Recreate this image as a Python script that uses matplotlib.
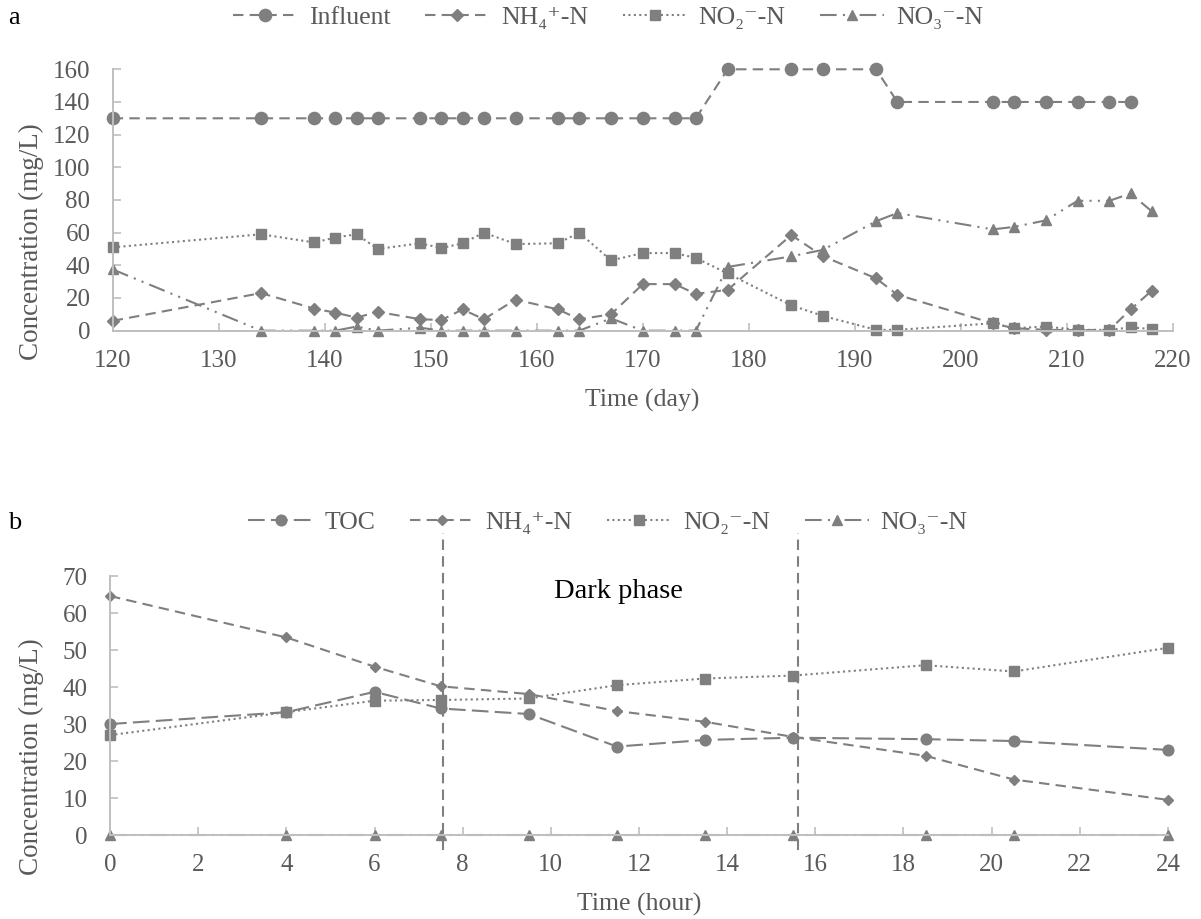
import matplotlib
matplotlib.use("Agg")
import matplotlib.pyplot as plt

plt.rcParams['font.family'] = ['Liberation Serif', 'DejaVu Serif']
plt.rcParams['font.size'] = 18

# ---- Panel a: long-term reactor performance ----
days_influent = [120, 134, 139, 141, 143, 145, 149, 151, 153, 155, 158, 162, 164, 167,
                 170, 173, 175, 178, 184, 187, 192, 194, 203, 205, 208, 211, 214, 216]
influent = [130, 130, 130, 130, 130, 130, 130, 130, 130, 130, 130, 130, 130, 130,
            130, 130, 130, 160, 160, 160, 160, 140, 140, 140, 140, 140, 140, 140]

days = [120, 134, 139, 141, 143, 145, 149, 151, 153, 155, 158, 162, 164, 167, 170,
        173, 175, 178, 184, 187, 192, 194, 203, 205, 208, 211, 214, 216, 218]
nh4_a = [6, 23, 13.5, 11, 8, 11.5, 7, 6.5, 13, 7, 19, 13, 7, 10, 28.5,
         28.5, 22.5, 25, 58.5, 45.5, 32, 22, 4.5, 1.5, 0.5, 0.3, 0.5, 13, 24.5]
no2_a = [51, 59, 54, 57, 59, 50, 53.5, 50.5, 53.5, 60, 53, 53.5, 60, 43, 47.5,
         47.5, 44.5, 35, 15.5, 9, 0.5, 0.5, 4.5, 1.5, 2.5, 0.5, 0.5, 2, 1]
no3_a = [37.5, 0, 0, 0, 2.5, 0, 1.8, 0, 0, 0, 0, 0, 0, 7.5, 0,
         0, 0, 39, 45.5, 49.5, 67, 72, 62, 63.5, 67.5, 79.5, 79.5, 84, 73]

# ---- Panel b: one 24 h cycle ----
hours = [0, 4, 6, 7.5, 9.5, 11.5, 13.5, 15.5, 18.5, 20.5, 24]
toc_b = [30, 33.2, 38.7, 34.2, 32.7, 23.9, 25.7, 26.3, 25.9, 25.4, 23.0]
nh4_b = [64.6, 53.4, 45.5, 40.2, 38.1, 33.5, 30.6, 26.5, 21.4, 15.0, 9.5]
no2_b = [27.0, 33.2, 36.3, 36.5, 36.9, 40.5, 42.3, 43.1, 45.9, 44.2, 50.6]
no3_b = [0, 0, 0, 0, 0, 0, 0, 0, 0, 0, 0]

dark_bounds = [7.55, 15.6]

labels_a = ['Influent', 'NH\u2084\u207a-N', 'NO\u2082\u207b-N', 'NO\u2083\u207b-N']
labels_b = ['TOC', 'NH\u2084\u207a-N', 'NO\u2082\u207b-N', 'NO\u2083\u207b-N']

GREY = '#7f7f7f'
SPINE = '#bfbfbf'
TXT = '#595959'

LS_DASH = (0, (5, 3))
LS_DOT = (0, (1, 1.6))
LS_DASHDOTDOT = (0, (8, 3, 1, 3, 1, 3))
LS_LONGDASH = (0, (8, 3))

fig = plt.figure(figsize=(12.01, 9.19), dpi=100)
ax1 = fig.add_axes([0.0938, 0.6402, 0.8829, 0.2844])
ax2 = fig.add_axes([0.0916, 0.0914, 0.8809, 0.2818])


def style_axes(ax):
    for side in ('top', 'right'):
        ax.spines[side].set_visible(False)
    for side in ('left', 'bottom'):
        ax.spines[side].set_color(SPINE)
        ax.spines[side].set_linewidth(1.4)
    ax.tick_params(direction='in', length=6, width=1.2, color=SPINE,
                   labelcolor=TXT, labelsize=18)
    ax.tick_params(axis='y', pad=16)
    ax.tick_params(axis='x', pad=14)


kw = dict(color=GREY, markerfacecolor=GREY, markeredgecolor=GREY, lw=1.5, clip_on=False)

# Panel a
la1, = ax1.plot(days_influent, influent, ls=LS_DASH, marker='o', ms=8.8, **kw)
la2, = ax1.plot(days, nh4_a, ls=LS_DASH, marker='D', ms=6.2, **kw)
la3, = ax1.plot(days, no2_a, ls=LS_DOT, marker='s', ms=7.7, **kw)
la4, = ax1.plot(days, no3_a, ls=LS_DASHDOTDOT, marker='^', ms=7.7, **kw)
ax1.set_xlim(120, 220)
ax1.set_ylim(0, 160)
ax1.set_xticks(range(120, 221, 10))
ax1.set_yticks(range(0, 161, 20))
style_axes(ax1)

# Panel b
lb1, = ax2.plot(hours, toc_b, ls=LS_LONGDASH, marker='o', ms=7.7, **kw)
lb2, = ax2.plot(hours, nh4_b, ls=LS_DASH, marker='D', ms=5.5, **kw)
lb3, = ax2.plot(hours, no2_b, ls=LS_DOT, marker='s', ms=7.2, **kw)
lb4, = ax2.plot(hours, no3_b, ls=LS_DASHDOTDOT, marker='^', ms=7.5, **kw)
ax2.set_xlim(0, 24)
ax2.set_ylim(0, 70)
ax2.set_xticks(range(0, 25, 2))
ax2.set_yticks(range(0, 71, 10))
style_axes(ax2)

for xb in dark_bounds:
    ax2.plot([xb, xb], [-4, 81.6], color=GREY, ls=(0, (5, 3)), lw=1.5, clip_on=False)
ax2.text(11.54, 65.7, 'Dark phase', ha='center', va='center', fontsize=20.5, color='black')

# Axis titles
fig.text(31 / 1201, 1 - 242 / 919, 'Concentration (mg/L)', rotation=90,
         ha='center', va='center', color=TXT, fontsize=19.5)
fig.text(31 / 1201, 1 - 757 / 919, 'Concentration (mg/L)', rotation=90,
         ha='center', va='center', color=TXT, fontsize=19.5)
fig.text(642 / 1201, 1 - 407 / 919, 'Time (day)', ha='center', va='baseline',
         color=TXT, fontsize=18.5)
fig.text(639 / 1201, 1 - 911 / 919, 'Time (hour)', ha='center', va='baseline',
         color=TXT, fontsize=18.5)

# Panel letters
fig.text(8 / 1201, 1 - 18 / 919, 'a', ha='left', va='center', fontsize=19, color='black')
fig.text(8 / 1201, 1 - 523 / 919, 'b', ha='left', va='center', fontsize=19, color='black')

leg_kw = dict(loc='center', ncol=4, frameon=False, fontsize=18.5, handlelength=2.5,
              handletextpad=0.45, columnspacing=1.35, numpoints=1, labelcolor=TXT)
fig.legend([la1, la2, la3, la4], labels_a, bbox_to_anchor=(608 / 1201, 1 - 18 / 919), **leg_kw)
fig.legend([lb1, lb2, lb3, lb4], labels_b, bbox_to_anchor=(608 / 1201, 1 - 523 / 919), **leg_kw)

fig.savefig('out.png', dpi=100)
